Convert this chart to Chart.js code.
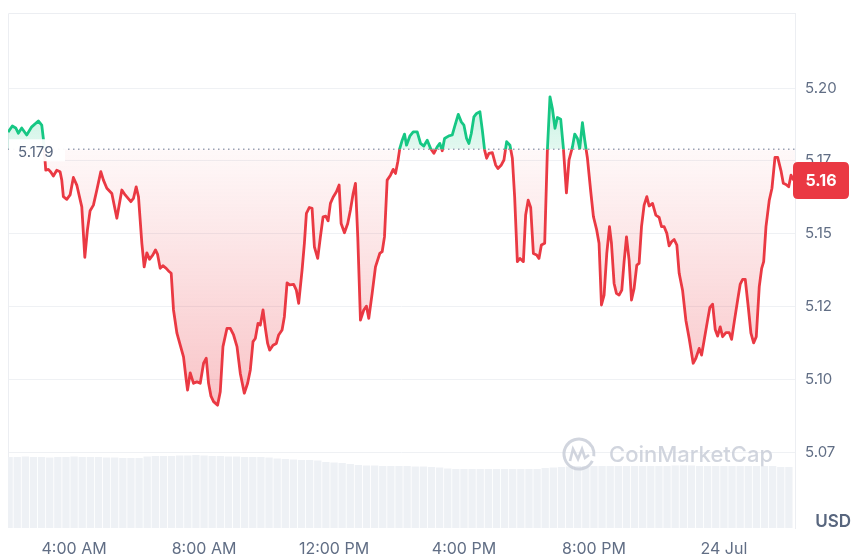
<!DOCTYPE html>
<html><head><meta charset="utf-8">
<script src="https://cdn.jsdelivr.net/npm/chart.js@4.4.1/dist/chart.umd.min.js"></script>
<style>html,body{margin:0;padding:0;background:#fff;}canvas{display:block;}</style>
</head><body>
<canvas id="c" width="855" height="559"></canvas>
<script>
// ---- data (hours of 23 Jul; >24 = 24 Jul) ----
const TIMES = [
1.966,2.099,2.203,2.283,2.388,2.459,2.542,2.696,2.900,3.005,
3.060,3.128,3.208,3.282,3.362,3.467,3.569,3.621,3.670,3.775,
3.877,3.978,4.083,4.237,4.330,4.410,4.493,4.595,4.700,4.823,
4.903,5.008,5.162,5.316,5.470,5.572,5.747,5.827,5.911,5.982,
6.086,6.157,6.240,6.321,6.425,6.505,6.567,6.650,6.733,6.835,
6.906,6.989,7.060,7.165,7.267,7.368,7.452,7.492,7.575,7.676,
7.781,7.883,7.985,8.068,8.139,8.213,8.293,8.416,8.499,8.582,
8.706,8.807,8.909,9.014,9.116,9.239,9.341,9.424,9.507,9.578,
9.661,9.732,9.815,9.886,9.957,10.019,10.123,10.225,10.296,10.401,
10.472,10.555,10.635,10.758,10.841,10.912,11.017,11.088,11.150,11.242,
11.325,11.396,11.498,11.581,11.664,11.744,11.818,11.889,11.972,12.074,
12.157,12.219,12.321,12.422,12.505,12.589,12.660,12.731,12.814,12.915,
12.999,13.070,13.174,13.276,13.408,13.482,13.553,13.636,13.738,13.821,
13.892,13.963,14.025,14.099,14.170,14.231,14.333,14.438,14.561,14.663,
14.764,14.869,14.971,15.073,15.177,15.257,15.331,15.402,15.535,15.640,
15.710,15.824,15.917,15.997,16.080,16.151,16.225,16.305,16.388,16.490,
16.564,16.635,16.697,16.768,16.872,16.974,17.045,17.150,17.230,17.313,
17.415,17.489,17.559,17.643,17.723,17.828,17.898,17.976,18.053,18.136,
18.237,18.308,18.382,18.484,18.567,18.647,18.721,18.801,18.875,18.977,
19.060,19.153,19.233,19.338,19.409,19.492,19.563,19.646,19.717,19.800,
19.902,19.985,20.086,20.157,20.231,20.312,20.395,20.478,20.539,20.620,
20.693,20.774,20.857,20.928,21.002,21.082,21.156,21.236,21.319,21.390,
21.464,21.544,21.627,21.698,21.803,21.905,22.006,22.080,22.161,22.244,
22.315,22.389,22.469,22.552,22.623,22.727,22.829,22.931,23.054,23.137,
23.239,23.313,23.393,23.498,23.569,23.652,23.732,23.806,23.886,23.960,
24.062,24.164,24.237,24.318,24.423,24.503,24.577,24.657,24.749,24.832,
24.915,24.996,25.088,25.162,25.224,25.295,25.396,25.479,25.572,25.655,
25.757,25.828,25.911,25.994,26.065,26.136,26.188];

const PRICES = [
5.1849,5.1870,5.1863,5.1845,5.1863,5.1852,5.1839,5.1867,5.1887,5.1873,
5.1821,5.1718,5.1721,5.1712,5.1698,5.1718,5.1713,5.1684,5.1627,5.1618,
5.1633,5.1693,5.1667,5.1592,5.1419,5.1512,5.1579,5.1598,5.1650,5.1713,
5.1684,5.1656,5.1638,5.1553,5.1650,5.1633,5.1610,5.1621,5.1661,5.1627,
5.1467,5.1386,5.1434,5.1412,5.1427,5.1444,5.1430,5.1381,5.1390,5.1381,
5.1372,5.1364,5.1238,5.1158,5.1117,5.1077,5.0997,5.0963,5.1022,5.0986,
5.0991,5.0986,5.1055,5.1072,5.0986,5.0942,5.0923,5.0911,5.0957,5.1112,
5.1175,5.1175,5.1152,5.1112,5.1020,5.0952,5.0986,5.1032,5.1129,5.1140,
5.1192,5.1186,5.1238,5.1176,5.1123,5.1100,5.1117,5.1123,5.1152,5.1169,
5.1215,5.1331,5.1324,5.1326,5.1306,5.1261,5.1375,5.1467,5.1570,5.1590,
5.1587,5.1455,5.1415,5.1489,5.1558,5.1560,5.1544,5.1604,5.1625,5.1644,
5.1667,5.1535,5.1503,5.1535,5.1581,5.1638,5.1673,5.1489,5.1203,5.1238,
5.1251,5.1209,5.1295,5.1386,5.1432,5.1438,5.1489,5.1684,5.1701,5.1721,
5.1707,5.1747,5.1793,5.1821,5.1842,5.1804,5.1835,5.1850,5.1850,5.1810,
5.1801,5.1821,5.1793,5.1776,5.1798,5.1810,5.1785,5.1827,5.1836,5.1839,
5.1867,5.1910,5.1884,5.1873,5.1827,5.1810,5.1844,5.1901,5.1913,5.1919,
5.1856,5.1787,5.1759,5.1776,5.1778,5.1736,5.1724,5.1736,5.1753,5.1816,
5.1804,5.1759,5.1627,5.1404,5.1415,5.1404,5.1564,5.1615,5.1590,5.1432,
5.1427,5.1415,5.1461,5.1467,5.1787,5.1970,5.1930,5.1862,5.1899,5.1893,
5.1793,5.1640,5.1753,5.1798,5.1842,5.1827,5.1793,5.1881,5.1821,5.1759,
5.1644,5.1558,5.1512,5.1467,5.1255,5.1289,5.1432,5.1524,5.1467,5.1329,
5.1295,5.1289,5.1306,5.1404,5.1489,5.1409,5.1272,5.1312,5.1392,5.1398,
5.1524,5.1598,5.1627,5.1595,5.1604,5.1564,5.1556,5.1524,5.1524,5.1501,
5.1458,5.1472,5.1480,5.1461,5.1364,5.1306,5.1203,5.1140,5.1055,5.1072,
5.1106,5.1083,5.1135,5.1203,5.1247,5.1258,5.1171,5.1148,5.1180,5.1146,
5.1160,5.1160,5.1137,5.1197,5.1272,5.1327,5.1343,5.1343,5.1249,5.1158,
5.1125,5.1146,5.1318,5.1381,5.1404,5.1524,5.1615,5.1656,5.1762,5.1762,
5.1716,5.1673,5.1669,5.1661,5.1701,5.1686,5.1684];

// volume bars every 15 min from 02:00 (relative units)
const VOL_START = 2.0, VOL_STEP = 0.25;
const VOLUMES = [
71,71,71.5,71,71,70.5,71,71,71.5,71,71,71,70.5,70.5,70,
70,70,
71.5,72,72,72,72.5,72.5,
73,
72.5,72,72,71.5,71.5,71,71,71,70.5,
69.5,69,68.5,68,68,67.5,
66,65.5,65,64,
63,62.5,62.5,62,62,62,62,61.5,61.5,61,60.5,
59.5,59,59,59,59,59,59,59,59,59,59,59,60,
60.5,61,61.5,
62,62,62,62,62,62,62,62,62,62,62,62,62.5,62.5,62.5,62,62,62,62,62,62,62,62,62,62,
61,61];

const BASE = 5.179;                 // reference (open) price
const Y_MIN = 5.0489, Y_MAX = 5.2258;
const Y_TICKS  = [5.075, 5.10, 5.125, 5.15, 5.175, 5.20];
const Y_LABELS = ['5.07', '5.10', '5.12', '5.15', '5.17', '5.20'];
const X_MIN = 1.966, X_MAX = 26.188;
const X_TICKS  = [4, 8, 12, 16, 20, 24];
const X_LABELS = ['4:00 AM', '8:00 AM', '12:00 PM', '4:00 PM', '8:00 PM', '24 Jul'];
const CURRENCY = 'USD';

// ---- styles ----
const GREEN = '#16c784', RED = '#ea3943';
const TEXT = '#616e85';
const GRID = '#eff1f4';
const FONT = 'Inter, "Noto Sans", sans-serif';

const pricePts = TIMES.map((t, i) => ({x: t, y: PRICES[i]}));
const volPts = VOLUMES.map((v, i) => ({x: VOL_START + i * VOL_STEP, y: v}));

function fillGradient(c) {
  const chart = c.chart, a = chart.chartArea;
  if (!a || !chart.scales.y) return 'rgba(0,0,0,0)';
  const ys = chart.scales.y;
  const h = a.bottom - a.top;
  const p = Math.min(1, Math.max(0, (ys.getPixelForValue(BASE) - a.top) / h));
  const pl = Math.min(1, Math.max(p, (ys.getPixelForValue(5.09) - a.top) / h));
  const g = chart.ctx.createLinearGradient(0, a.top, 0, a.bottom);
  g.addColorStop(0, 'rgba(22,199,132,0.45)');
  g.addColorStop(p, 'rgba(22,199,132,0.12)');
  g.addColorStop(p, 'rgba(234,57,67,0.03)');
  g.addColorStop(pl, 'rgba(234,57,67,0.30)');
  g.addColorStop(1, 'rgba(234,57,67,0.32)');
  return g;
}

const clipPlugin = {
  id: 'clipSide',
  beforeDatasetDraw(chart, args) {
    const ds = chart.data.datasets[args.index];
    if (!ds.clipSide) return;
    const {ctx, chartArea: a} = chart;
    const yb = chart.scales.y.getPixelForValue(BASE);
    ctx.save();
    ctx.beginPath();
    if (ds.clipSide === 'above') ctx.rect(a.left - 5, a.top - 5, a.width + 10, yb - a.top + 5);
    else ctx.rect(a.left - 5, yb, a.width + 10, a.bottom - yb + 5);
    ctx.clip();
  },
  afterDatasetDraw(chart, args) {
    if (chart.data.datasets[args.index].clipSide) chart.ctx.restore();
  }
};

function roundRect(ctx, x, y, w, h, r) {
  ctx.beginPath();
  ctx.moveTo(x + r, y);
  ctx.lineTo(x + w - r, y); ctx.quadraticCurveTo(x + w, y, x + w, y + r);
  ctx.lineTo(x + w, y + h - r); ctx.quadraticCurveTo(x + w, y + h, x + w - r, y + h);
  ctx.lineTo(x + r, y + h); ctx.quadraticCurveTo(x, y + h, x, y + h - r);
  ctx.lineTo(x, y + r); ctx.quadraticCurveTo(x, y, x + r, y);
  ctx.closePath();
}

const decorPlugin = {
  id: 'decor',
  beforeDatasetsDraw(chart) {
    const {ctx, chartArea: a} = chart;
    ctx.save();
    ctx.strokeStyle = '#eceef2';
    ctx.lineWidth = 1;
    ctx.beginPath();
    ctx.moveTo(a.left + 0.5, a.bottom);
    ctx.lineTo(a.left + 0.5, a.top + 0.5);
    ctx.lineTo(a.right + 0.5, a.top + 0.5);
    ctx.stroke();
    ctx.restore();
  },
  afterDatasetsDraw(chart) {
    const {ctx, chartArea: a} = chart;
    const ys = chart.scales.y;
    ctx.save();
    // watermark
    const wx = a.right - 216, wy = a.bottom - 74;
    ctx.globalAlpha = 0.85;
    ctx.strokeStyle = '#c9ced8';
    ctx.lineWidth = 3;
    ctx.beginPath();
    ctx.arc(wx, wy, 15, 0.15 * Math.PI, 2.05 * Math.PI);
    ctx.stroke();
    ctx.lineWidth = 2.6;
    ctx.beginPath();
    ctx.moveTo(wx - 9, wy + 7);
    ctx.lineTo(wx - 6, wy - 5);
    ctx.lineTo(wx - 1, wy + 5);
    ctx.lineTo(wx + 3, wy - 5);
    ctx.lineTo(wx + 6, wy + 4);
    ctx.lineTo(wx + 10, wy + 1);
    ctx.stroke();
    ctx.fillStyle = '#c9ced8';
    ctx.font = '500 22px ' + FONT;
    ctx.textAlign = 'left';
    ctx.textBaseline = 'middle';
    ctx.fillText('CoinMarketCap', wx + 30, wy + 1);
    ctx.globalAlpha = 1;

    // base price label
    const yb = ys.getPixelForValue(BASE);
    ctx.fillStyle = 'rgba(255,255,255,0.95)';
    ctx.fillRect(a.left + 1, yb - 10, 56, 22);
    ctx.fillStyle = '#58667e';
    ctx.font = '15px ' + FONT;
    ctx.textAlign = 'left';
    ctx.textBaseline = 'middle';
    ctx.fillText(BASE.toFixed(3), a.left + 10, yb + 3);

    // current price badge
    const last = PRICES[PRICES.length - 1];
    const yl = ys.getPixelForValue(last);
    ctx.fillStyle = RED;
    roundRect(ctx, a.right - 2, yl - 18, 56, 37, 5);
    ctx.fill();
    ctx.fillStyle = '#ffffff';
    ctx.font = '700 16px ' + FONT;
    ctx.textAlign = 'center';
    ctx.fillText((Math.floor(last * 100) / 100).toFixed(2), a.right + 26, yl + 1);

    // currency
    ctx.fillStyle = '#58667e';
    ctx.font = '600 17px ' + FONT;
    ctx.textAlign = 'right';
    ctx.textBaseline = 'alphabetic';
    ctx.fillText(CURRENCY, chart.width - 4, a.bottom - 1);
    ctx.restore();
  }
};

new Chart(document.getElementById('c'), {
  type: 'line',
  data: {
    datasets: [
      {label: 'fill', data: pricePts, borderWidth: 0, borderColor: 'rgba(0,0,0,0)',
       backgroundColor: fillGradient, fill: {target: {value: BASE}}, pointRadius: 0, order: 4},
      {label: 'up', data: pricePts, borderColor: GREEN, borderWidth: 2.8, fill: false,
       pointRadius: 0, clipSide: 'above', order: 1, borderJoinStyle: 'round'},
      {label: 'down', data: pricePts, borderColor: RED, borderWidth: 2.8, fill: false,
       pointRadius: 0, clipSide: 'below', order: 2, borderJoinStyle: 'round'},
      {label: 'base', data: [{x: X_MIN, y: BASE}, {x: X_MAX, y: BASE}], borderColor: '#98a1b3',
       borderWidth: 1.5, borderDash: [1.5, 3.5], pointRadius: 0, fill: false, order: 3},
      {type: 'bar', label: 'volume', data: volPts, yAxisID: 'yv', backgroundColor: '#eef1f5',
       barPercentage: 0.9, categoryPercentage: 1, order: 5}
    ]
  },
  options: {
    responsive: false,
    animation: false,
    devicePixelRatio: 1,
    layout: {padding: {left: 8, top: 13, right: 0, bottom: 0}},
    plugins: {legend: {display: false}, tooltip: {enabled: false}},
    scales: {
      x: {
        type: 'linear', min: X_MIN, max: X_MAX, offset: false,
        afterBuildTicks: s => { s.ticks = X_TICKS.map(v => ({value: v})); },
        afterFit: s => { s.height = 31; s.paddingLeft = 0; s.paddingRight = 0; },
        ticks: {callback: (v, i) => X_LABELS[i], color: TEXT, font: {family: FONT, size: 16},
                padding: 12, maxRotation: 0, autoSkip: false},
        grid: {display: false, drawTicks: false},
        border: {display: false}
      },
      y: {
        position: 'right', min: Y_MIN, max: Y_MAX,
        afterBuildTicks: s => { s.ticks = Y_TICKS.map(v => ({value: v})); },
        afterFit: s => { s.width = 60; s.paddingTop = 0; s.paddingBottom = 0; },
        ticks: {callback: (v, i) => Y_LABELS[i], color: TEXT, font: {family: FONT, size: 15}, padding: 10},
        grid: {color: GRID, drawTicks: false},
        border: {display: true, color: '#eceef2'}
      },
      yv: {display: false, min: 0, max: 515}
    }
  },
  plugins: [clipPlugin, decorPlugin]
});
</script>
</body></html>
